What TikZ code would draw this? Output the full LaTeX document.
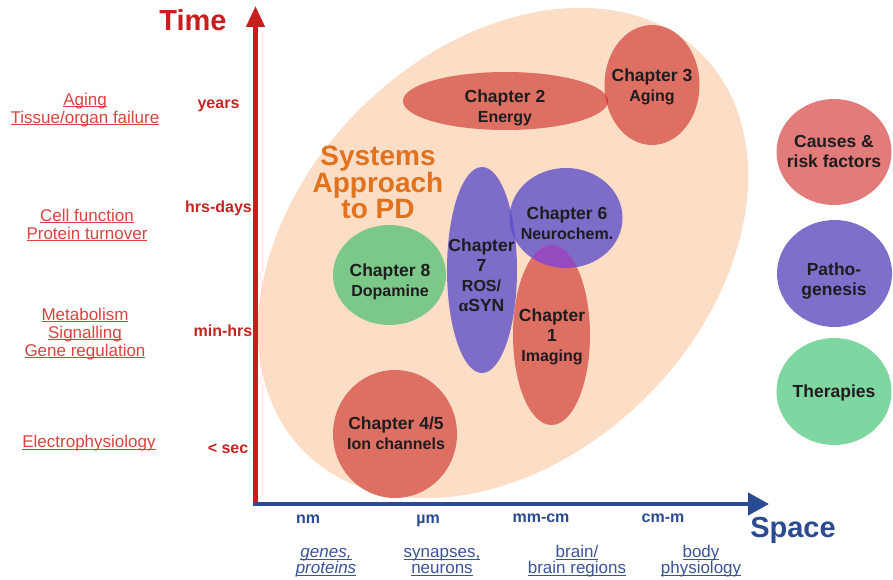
\documentclass[tikz,border=0pt]{standalone}
\usepackage{fontspec}
\setmainfont{Liberation Sans}
\newfontfamily\greekserif{Liberation Serif}
\usetikzlibrary{arrows.meta,shapes.geometric}

% colours
\definecolor{axisred}{RGB}{200,30,30}
\definecolor{tickred}{RGB}{196,36,34}
\definecolor{labelred}{RGB}{220,66,62}
\definecolor{axisblue}{RGB}{42,74,145}
\definecolor{labelblue}{RGB}{60,84,150}
\definecolor{peach}{RGB}{252,221,198}
\definecolor{chred}{RGB}{221,112,98}
\definecolor{chblue}{RGB}{125,108,200}
\definecolor{chgreen}{RGB}{124,200,136}
\definecolor{ovred}{RGB}{222,58,58}
\definecolor{ovblue}{RGB}{98,84,204}
\definecolor{ovpurple}{RGB}{150,74,192}
\definecolor{sysorange}{RGB}{226,114,30}
\definecolor{keyred}{RGB}{226,124,122}
\definecolor{keyblue}{RGB}{126,112,202}
\definecolor{keygreen}{RGB}{126,214,160}
\definecolor{inkdark}{RGB}{30,28,30}

% underline at a fixed distance below the baseline
\newlength\ulwd
\newcommand\ulbox[1]{\settowidth{\ulwd}{#1}\rlap{\rule[-2.2pt]{\ulwd}{1.1pt}}#1}
\newcommand\subln{\fontsize{16}{20}\selectfont}
\setlength\lineskiplimit{-50pt}
\setlength\lineskip{0pt}

\begin{document}
\begin{tikzpicture}[x=1pt,y=1pt,
  blob/.style={ellipse, draw=none, inner sep=0pt, outer sep=0pt},
  ctext/.style={text=inkdark, font=\bfseries\fontsize{17.5}{20}\selectfont, align=center, inner sep=0pt},
  leftlab/.style={text=labelred, font=\fontsize{17}{18}\selectfont, align=center, inner sep=0pt},
  botlab/.style={text=labelblue, font=\fontsize{17}{16}\selectfont, align=center, inner sep=0pt},
  timetick/.style={text=tickred, font=\bfseries\fontsize{16}{18}\selectfont, inner sep=0pt},
  spacetick/.style={text=axisblue, font=\bfseries\fontsize{16}{18}\selectfont, inner sep=0pt},
  axtitle/.style={font=\bfseries\fontsize{29}{32}\selectfont, inner sep=0pt},
  systxt/.style={text=sysorange, font=\bfseries\fontsize{28}{26.5}\selectfont, align=center, inner sep=0pt},
  axisline/.style={line width=4.5pt}
]
\useasboundingbox (0,0) rectangle (893,-580);

% systems-approach backdrop
\node[blob, fill=peach, minimum width=562, minimum height=406, rotate=45] (sys) at (503,-253) {};

% chapter ellipses
\node[blob, fill=chred, minimum width=205, minimum height=58] (ch2) at (505.5,-101) {};
\node[blob, fill=chred, minimum width=95, minimum height=120] (ch3) at (652,-85) {};
\begin{scope}
  \clip (505.5,-101) ellipse [x radius=102.5, y radius=29];
  \fill[ovred] (652,-85) ellipse [x radius=47.5, y radius=60];
\end{scope}

\node[blob, fill=chblue, minimum width=70, minimum height=206] (ch7) at (482,-270) {};
\node[blob, fill=chblue, minimum width=113, minimum height=100] (ch6) at (566,-218) {};
\node[blob, fill=chred, minimum width=77, minimum height=180] (ch1) at (551.5,-335) {};
\begin{scope}
  \clip (566,-218) ellipse [x radius=56.5, y radius=50];
  \fill[ovblue] (482,-270) ellipse [x radius=35, y radius=103];
  \fill[ovpurple] (551.5,-335) ellipse [x radius=38.5, y radius=90];
\end{scope}
\node[blob, fill=chgreen, minimum width=113, minimum height=100] (ch8) at (389.5,-275) {};
\node[blob, fill=chred, minimum width=124, minimum height=128] (ch45) at (395,-434) {};

% chapter labels
\node[ctext] (ch2t) at (505,-108) {Chapter 2\\\subln Energy};
\node[ctext] (ch3t) at (652,-87.3) {Chapter 3\\\subln Aging};
\node[ctext] (ch6t) at (567,-223.6) {Chapter 6\\\subln Neurochem.};
\node[ctext] (ch8t) at (390,-282.3) {Chapter 8\\\subln Dopamine};
\node[ctext] (ch7t) at (481.5,-275.6) {Chapter\\7\\\subln ROS/\\{\greekserif\bfseries α}SYN};
\node[ctext] (ch1t) at (552,-337.3) {Chapter\\1\\\subln Imaging};
\node[ctext] (ch45t) at (396,-433.6) {Chapter 4/5\\\subln Ion channels};

\node[systxt] (systitle) at (378,-182.5) {Systems\\Approach\\to PD};

% key circles
\node[blob, fill=keyred, minimum width=115, minimum height=106] (kc) at (834,-152) {};
\node[blob, fill=keyblue, minimum width=115, minimum height=107] (kp) at (834.5,-273.5) {};
\node[blob, fill=keygreen, minimum width=115, minimum height=107] (kt) at (834,-391.5) {};
\node[ctext] (kct) at (834,-151) {Causes \&\\risk factors};
\node[ctext] (kpt) at (834,-281) {Patho-\\genesis};
\node[ctext] (ktt) at (834,-392.5) {Therapies};

% axes
\coordinate (tbottom) at (255.5,-506);
\coordinate (ttop) at (255.5,-6);
\coordinate (sleft) at (253,-504);
\coordinate (sright) at (769,-504);
\draw[axisline, axisred, -{Triangle[length=21pt,width=18pt]}] (tbottom) -- (ttop);
\draw[axisline, axisblue, -{Triangle[length=21pt,width=22pt]}] (sleft) -- (sright);

\node[axtitle, text=axisred] (ttitle) at (193,-20.4) {Time};
\node[axtitle, text=axisblue] (stitle) at (793,-530.6) {Space};

% time scale
\node[timetick] (tyears) at (218.5,-105.5) {years};
\node[timetick] (tdays) at (218.5,-207.9) {hrs-days};
\node[timetick] (thrs) at (223,-331.2) {min-hrs};
\node[timetick] (tsec) at (228,-449) {< sec};

\node[leftlab] (laging) at (85,-109.7) {\ulbox{Aging}\\\ulbox{Tissue/organ failure}};
\node[leftlab] (lcell) at (87,-225) {\ulbox{Cell function}\\\ulbox{Protein turnover}};
\node[leftlab] (lmetab) at (85,-333.7) {\ulbox{Metabolism}\\\ulbox{Signalling}\\\ulbox{Gene regulation}};
\node[leftlab] (lelec) at (89,-443.6) {\ulbox{Electrophysiology}};

% space scale
\node[spacetick] (snm) at (308,-518.9) {nm};
\node[spacetick] (sum) at (428,-520.5) {µm};
\node[spacetick] (smm) at (541,-518) {mm-cm};
\node[spacetick] (scm) at (663,-518) {cm-m};

\node[botlab] (bgenes) at (326,-562.9) {\ulbox{\itshape genes,}\\\ulbox{\itshape proteins}};
\node[botlab] (bsyn) at (442,-562.2) {\ulbox{synapses,}\\\ulbox{neurons}};
\node[botlab] (bbrain) at (577,-561.1) {\ulbox{brain/}\\\ulbox{brain regions}};
\node[botlab] (bbody) at (701,-561.1) {\ulbox{body}\\\ulbox{physiology}};
\end{tikzpicture}
\end{document}
